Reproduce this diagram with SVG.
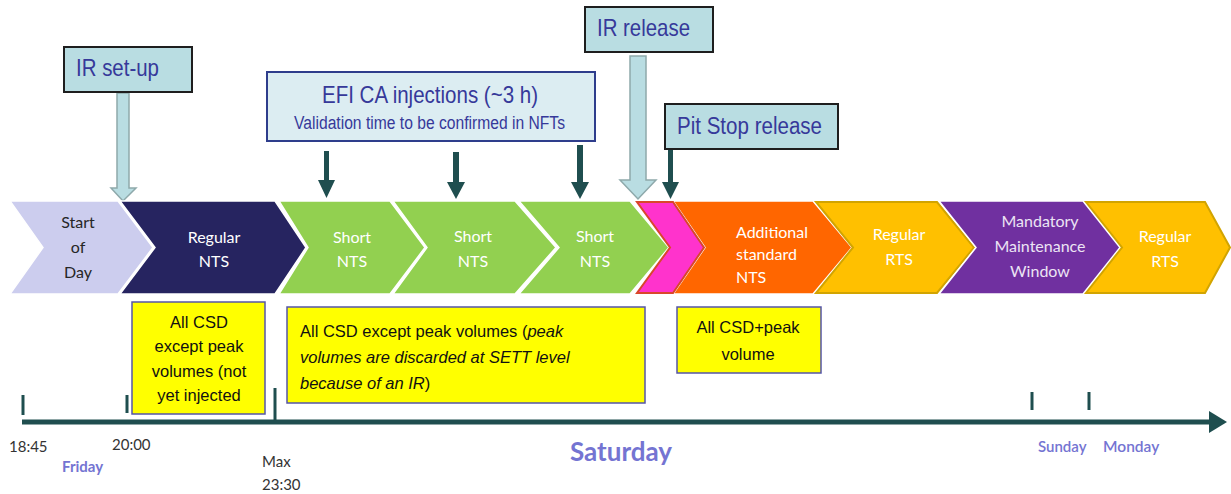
<svg xmlns="http://www.w3.org/2000/svg" width="1231" height="494" viewBox="0 0 1231 494">
<style>
.chev{stroke:#ffffff;stroke-width:1.5}
.ct{font-family:Lato,"Open Sans",sans-serif;font-size:16px;fill:#ffffff;text-anchor:middle}
.tb{fill:#b9dde2;stroke:#1e1e1e;stroke-width:2}
.tt{font-family:"Liberation Sans",Arial,sans-serif;fill:#36399a}
.yb{fill:#ffff00;stroke:#5555a8;stroke-width:1.5}
.yt{font-family:"Liberation Sans",Arial,sans-serif;font-size:16.5px;fill:#111111}
.hollow{fill:#b9dde2;stroke:#8ea9ab;stroke-width:1.5}
.dark{fill:#1f4e4f}
.tick{stroke:#1f4e4f;stroke-width:3}
.tl{font-family:Lato,"Open Sans",sans-serif;font-size:15px;fill:#333333}
.day{font-family:Lato,"Open Sans",sans-serif;fill:#7474d2}
</style>

<g id="connectors">
  <!-- IR set-up hollow arrow -->
  <path class="hollow" d="M117,93 L129,93 L129,188 L136,188 L123,201 L111,188 L117,188 Z"/>
  <!-- IR release hollow arrow -->
  <path class="hollow" d="M630,56 L646,56 L646,180 L656,180 L638,199 L620,180 L630,180 Z"/>
  <!-- EFI CA arrows -->
  <path class="dark" d="M324,151 L329,151 L329,180 L335,180 L326.5,198 L318,180 L324,180 Z"/>
  <path class="dark" d="M453,152 L459,152 L459,182 L465,182 L456,199 L447,182 L453,182 Z"/>
  <path class="dark" d="M577,145 L583,145 L583,182 L589,182 L580,199 L571,182 L577,182 Z"/>
  <!-- Pit stop arrow -->
  <path class="dark" d="M668,147 L673,147 L673,182 L679,182 L670.5,199 L662,182 L668,182 Z"/>
  <!-- timeline axis -->
  <line x1="22" y1="422" x2="1212" y2="422" stroke="#1f4e4f" stroke-width="5"/>
  <path class="dark" d="M1209,411 L1227,422 L1209,433 Z"/>
  <line class="tick" x1="23" y1="395" x2="23" y2="415"/>
  <line class="tick" x1="127" y1="395" x2="127" y2="413"/>
  <line class="tick" x1="275" y1="388" x2="275" y2="421"/>
  <line class="tick" x1="1032" y1="392" x2="1032" y2="410"/>
  <line class="tick" x1="1089" y1="392" x2="1089" y2="410"/>
</g>

<g id="start-of-day">
  <polygon class="chev" fill="#cccdee" points="10,201 118,201 153,247.5 118,294 10,294 43,247.5"/>
  <text class="ct" style="fill:#262626" x="78" y="228">Start</text>
  <text class="ct" style="fill:#262626" x="78" y="253">of</text>
  <text class="ct" style="fill:#262626" x="78" y="278">Day</text>
</g>
<g id="regular-nts">
  <polygon class="chev" fill="#262460" points="120,201 275,201 306,247.5 275,294 120,294 155,247.5"/>
  <text class="ct" x="214" y="243">Regular</text>
  <text class="ct" x="214" y="267">NTS</text>
</g>
<g id="short-nts-1">
  <polygon class="chev" fill="#92d050" points="279,201 390,201 425,247.5 390,294 279,294 308,247.5"/>
  <text class="ct" x="352" y="243">Short</text>
  <text class="ct" x="352" y="267">NTS</text>
</g>
<g id="short-nts-2">
  <polygon class="chev" fill="#92d050" points="393,201 515,201 556,247.5 515,294 393,294 427,247.5"/>
  <text class="ct" x="473" y="242">Short</text>
  <text class="ct" x="473" y="267">NTS</text>
</g>
<g id="short-nts-3">
  <polygon class="chev" fill="#92d050" points="519,201 630,201 669,247.5 630,294 519,294 559,247.5"/>
  <text class="ct" x="595" y="242">Short</text>
  <text class="ct" x="595" y="267">NTS</text>
</g>
<g id="additional-standard-nts">
  <polygon class="chev" fill="#ff6600" points="673,201 813,201 852,247.5 813,294 673,294 705,247.5"/>
  <text class="ct" style="text-anchor:start" x="736" y="238">Additional</text>
  <text class="ct" style="text-anchor:start" x="736" y="260">standard</text>
  <text class="ct" style="text-anchor:start" x="736" y="283">NTS</text>
</g>
<g id="pit-stop">
  <polygon fill="#ff33cc" stroke="#d9472b" stroke-width="2" points="637,202 673,202 704,247.5 673,293 637,293 670,247.5"/>
</g>
<g id="regular-rts-1">
  <polygon fill="#ffc000" stroke="#d2a400" stroke-width="2" points="816,202 937,202 974,247.5 937,293 816,293 853,247.5"/>
  <text class="ct" x="899" y="240">Regular</text>
  <text class="ct" x="899" y="265">RTS</text>
</g>
<g id="maintenance-window">
  <polygon class="chev" fill="#7030a0" points="939,201 1083,201 1120,247.5 1083,294 939,294 976,247.5"/>
  <text class="ct" style="fill:#ece4f4" x="1040" y="227">Mandatory</text>
  <text class="ct" style="fill:#ece4f4" x="1040" y="252">Maintenance</text>
  <text class="ct" style="fill:#ece4f4" x="1040" y="277">Window</text>
</g>
<g id="regular-rts-2">
  <polygon fill="#ffc000" stroke="#d2a400" stroke-width="2" points="1086,202 1205,202 1230,247.5 1205,293 1086,293 1122,247.5"/>
  <text class="ct" x="1165" y="242">Regular</text>
  <text class="ct" x="1165" y="267">RTS</text>
</g>

<g id="ir-setup">
  <rect class="tb" x="64" y="47" width="128" height="45"/>
  <text class="tt" x="76" y="76" font-size="24" textLength="83" lengthAdjust="spacingAndGlyphs">IR set-up</text>
</g>
<g id="ir-release">
  <rect class="tb" x="585" y="7" width="128" height="45"/>
  <text class="tt" x="597" y="36" font-size="24" textLength="93" lengthAdjust="spacingAndGlyphs">IR release</text>
</g>
<g id="pit-stop-release">
  <rect class="tb" x="665" y="104" width="173" height="45"/>
  <text class="tt" x="677" y="134" font-size="23" textLength="145" lengthAdjust="spacingAndGlyphs">Pit Stop release</text>
</g>
<g id="efi-ca-injections">
  <rect x="267" y="72" width="328" height="69" fill="#dcedf2" stroke="#2e3d8c" stroke-width="2"/>
  <text class="tt" x="322" y="103" font-size="24" textLength="216" lengthAdjust="spacingAndGlyphs">EFI CA injections (~3 h)</text>
  <text class="tt" x="294" y="129" font-size="18" textLength="271" lengthAdjust="spacingAndGlyphs">Validation time to be confirmed in NFTs</text>
</g>

<g id="note-regular-nts">
  <rect class="yb" x="132" y="302" width="133" height="112"/>
  <text class="yt" x="199" y="328" text-anchor="middle">All CSD</text>
  <text class="yt" x="199" y="352" text-anchor="middle">except peak</text>
  <text class="yt" x="199" y="377" text-anchor="middle">volumes (not</text>
  <text class="yt" x="199" y="401" text-anchor="middle">yet injected</text>
</g>
<g id="note-short-nts">
  <rect class="yb" x="287" y="307" width="358" height="96"/>
  <text class="yt" x="300" y="337" font-size="18">All CSD except peak volumes (<tspan font-style="italic">peak</tspan></text>
  <text class="yt" x="300" y="363" font-size="18" font-style="italic">volumes are discarded at SETT level</text>
  <text class="yt" x="300" y="389" font-size="18"><tspan font-style="italic">because of an IR</tspan>)</text>
</g>
<g id="note-additional">
  <rect class="yb" x="677" y="307" width="144" height="66"/>
  <text class="yt" x="748" y="333" text-anchor="middle">All CSD+peak</text>
  <text class="yt" x="748" y="360" text-anchor="middle">volume</text>
</g>

<g id="timeline-labels">
  <text class="tl" x="9" y="452">18:45</text>
  <text class="tl" x="112" y="450">20:00</text>
  <text class="tl" x="262" y="467">Max</text>
  <text class="tl" x="262" y="490">23:30</text>
  <text class="day" x="62" y="472" font-size="15" font-weight="bold">Friday</text>
  <text class="day" x="570" y="461" font-size="26" font-weight="bold">Saturday</text>
  <text class="day" x="1038" y="452" font-size="15" font-weight="600">Sunday</text>
  <text class="day" x="1103" y="452" font-size="15.5" font-weight="600">Monday</text>
</g>
</svg>
